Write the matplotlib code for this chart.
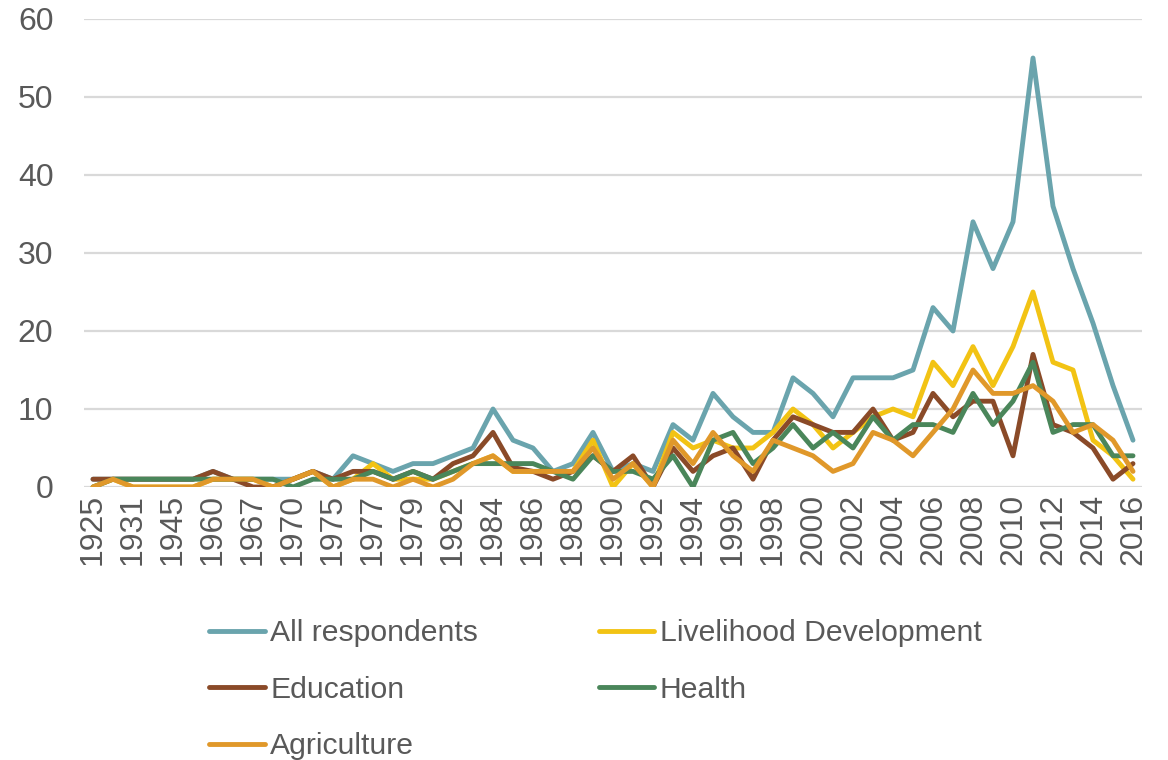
import matplotlib
matplotlib.use("Agg")
import matplotlib.pyplot as plt

years = ["1925", "1930", "1931", "1940", "1945", "1950", "1960", "1965", "1967", "1968",
         "1970", "1972", "1975", "1976", "1977", "1978", "1979", "1980", "1982", "1983"] + \
        [str(y) for y in range(1984, 2017)]

all_resp = [1, 1, 1, 1, 1, 1, 2, 1, 1, 1, 1, 2, 1, 4, 3, 2, 3, 3, 4, 5,
            10, 6, 5, 2, 3, 7, 2, 3, 2, 8, 6, 12, 9, 7, 7, 14, 12, 9, 14, 14,
            14, 15, 23, 20, 34, 28, 34, 55, 36, 28, 21, 13, 6]
livelihood = [0, 1, 0, 0, 0, 0, 1, 1, 1, 0, 1, 2, 0, 1, 3, 1, 1, 1, 2, 3,
              4, 2, 2, 2, 2, 6, 0, 3, 0, 7, 5, 6, 5, 5, 7, 10, 8, 5, 7, 9,
              10, 9, 16, 13, 18, 13, 18, 25, 16, 15, 6, 4, 1]
education = [1, 1, 1, 1, 1, 1, 2, 1, 0, 0, 1, 2, 1, 2, 2, 1, 2, 1, 3, 4,
             7, 2.5, 2, 1, 2, 4, 2, 4, 0, 5, 2, 4, 5, 1, 6, 9, 8, 7, 7, 10,
             6, 7, 12, 9, 11, 11, 4, 17, 8, 7, 5, 1, 3]
health = [0, 1, 1, 1, 1, 1, 1, 1, 1, 1, 0, 1, 1, 1, 2, 1, 2, 1, 2, 3,
          3, 3, 3, 2, 1, 4, 2, 2, 1, 4, 0, 6, 7, 3, 5, 8, 5, 7, 5, 9,
          6, 8, 8, 7, 12, 8, 11, 16, 7, 8, 8, 4, 4]
agriculture = [0, 1, 0, 0, 0, 0, 1, 1, 1, 0, 1, 2, 0, 1, 1, 0, 1, 0, 1, 3,
               4, 2, 2, 2, 2, 5, 1, 3, 0, 6, 3, 7, 4, 2, 6, 5, 4, 2, 3, 7,
               6, 4, 7, 10, 15, 12, 12, 13, 11, 7, 8, 6, 2]

series = [
    ("All respondents", all_resp, "#6AA4AD"),
    ("Livelihood Development", livelihood, "#F2C314"),
    ("Education", education, "#8A4A28"),
    ("Health", health, "#4A865A"),
    ("Agriculture", agriculture, "#E0982A"),
]

plt.rcParams["font.family"] = ["Liberation Sans", "DejaVu Sans"]
text_color = "#595959"

fig = plt.figure(figsize=(11.68, 7.6), dpi=100)
ax = fig.add_axes([84 / 1168, 273 / 760, 1058 / 1168, 468 / 760])

x = list(range(len(years)))
lines = {}
for name, vals, col in series:
    ln, = ax.plot(x, vals, color=col, lw=3.5, solid_joinstyle="round",
                  solid_capstyle="round", label=name)
    lines[name] = ln

ax.set_xlim(-0.45, len(years) - 0.55)
ax.set_ylim(0, 60)
ax.set_yticks(range(0, 61, 10))
ax.set_xticks(x[::2])
ax.set_xticklabels(years[::2], rotation=90)
ax.tick_params(axis="both", length=0, labelsize=23, colors=text_color)
ax.tick_params(axis="y", pad=22)
ax.tick_params(axis="x", pad=5)
ax.grid(axis="y", color="#D9D9D9", lw=1.6)
ax.set_axisbelow(True)
for s in ax.spines.values():
    s.set_visible(False)

order = ["All respondents", "Education", "Agriculture", "Livelihood Development", "Health"]
leg = fig.legend([lines[n] for n in order], order, ncol=2, loc="upper left",
                 bbox_to_anchor=(182 / 1168, 1 - 592 / 760), frameon=False,
                 fontsize=21.7, handlelength=1.85, handletextpad=0.18,
                 columnspacing=4.0, labelspacing=0.95)
for t in leg.get_texts():
    t.set_color(text_color)

plt.savefig("out.png", dpi=100)
